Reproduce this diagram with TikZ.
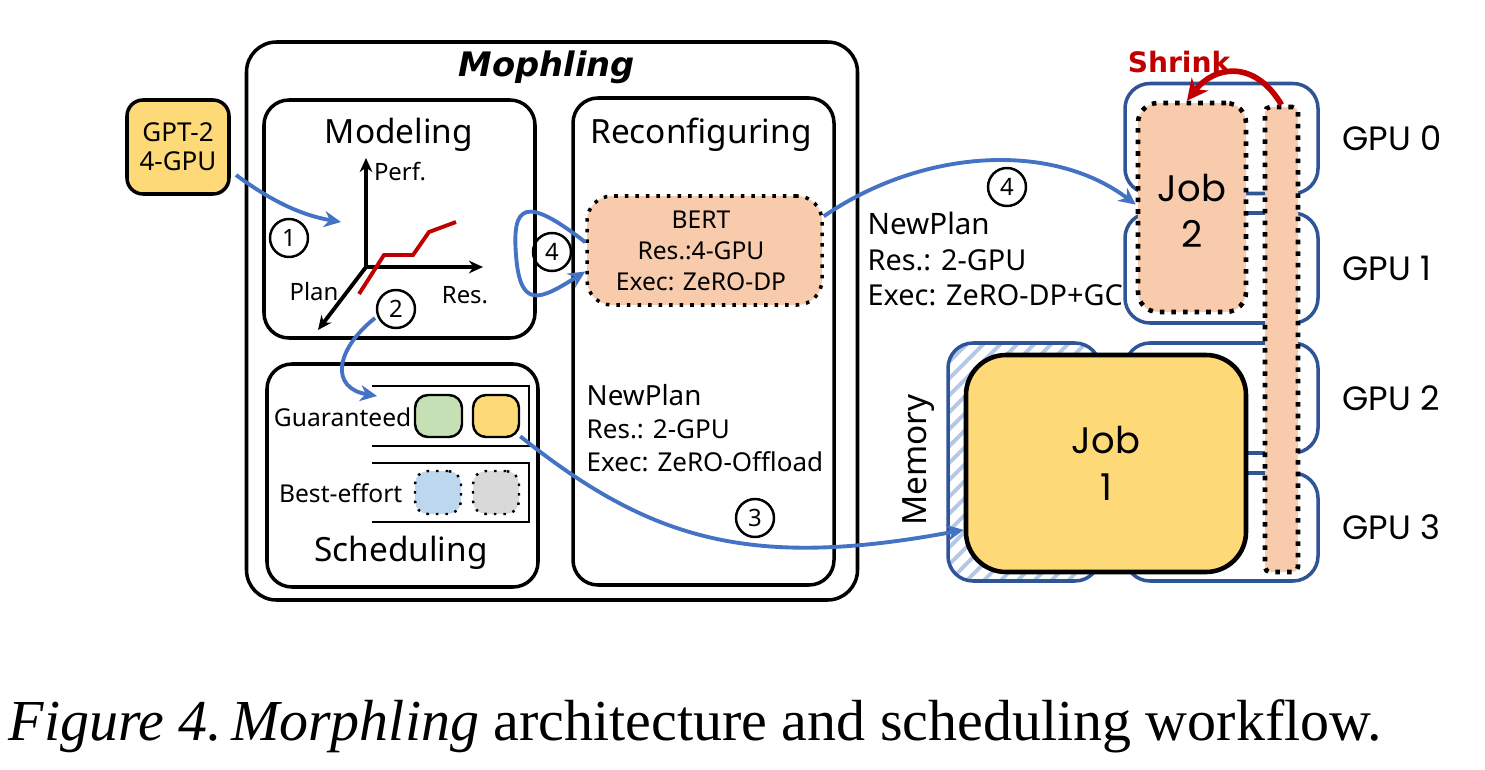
\documentclass[tikz,border=0pt]{standalone}
\usepackage{fontspec}
\setmainfont{Liberation Serif}
\newfontfamily\uisans{Noto Sans}
\newfontfamily\titlefont{DejaVu Sans}
\newfontfamily\geofont{Poppins}
\usetikzlibrary{arrows.meta, patterns.meta, positioning}

\definecolor{flowblue}{HTML}{4472C4}
\definecolor{gpublue}{HTML}{2F5597}
\definecolor{jobyellow}{HTML}{FDD977}
\definecolor{jobpeach}{HTML}{F8CBAD}
\definecolor{qgreen}{HTML}{C5E0B4}
\definecolor{qblue}{HTML}{BDD7EE}
\definecolor{qgray}{HTML}{D9D9D9}
\definecolor{shrinkred}{HTML}{C00000}
\definecolor{hatchblue}{HTML}{B4C7E7}

\begin{document}
\begin{tikzpicture} [x=0.1mm, y=-0.1mm,
    panel/.style = {draw, line width=1pt, rounded corners=3mm, inner sep=0},
    heading/.style = {font=\uisans\fontsize{9.5}{11}\selectfont, inner sep=0},
    small/.style = {font=\uisans\fontsize{7}{8.8}\selectfont, inner sep=0, align=center},
    num/.style = {circle, draw, line width=0.7pt, minimum size=3.8mm, inner sep=0,
        font=\uisans\fontsize{6.8}{8}\selectfont},
    flow/.style = {-{Stealth[length=4.8pt, width=4.6pt]}, line width=1.1pt, flowblue},
    axis/.style = {-{Stealth[length=4pt, width=3.6pt]}, line width=1.1pt},
    queue/.style = {draw, line width=0.7pt, rounded corners=1.3mm, minimum height=4.2mm},
    gpubox/.style = {draw=gpublue, line width=1pt, rounded corners=2.5mm,
        minimum width=19.3mm, minimum height=11mm},
    gpulabel/.style = {font=\geofont\fontsize{9.6}{11}\selectfont, inner sep=0},
    jobtext/.style = {font=\geofont\fontsize{10.5}{13.2}\selectfont, align=center}]

    \useasboundingbox (0,0) rectangle (1485,770);

    % architecture panels
    \node (mophling) [panel, minimum width=61.1mm, minimum height=55.8mm] at (552,321) {};
    \node (title) [font=\titlefont\bfseries\itshape\fontsize{9.6}{11}\selectfont] at (547,67) {Mophling};
    \node (modeling) [panel, rounded corners=2.5mm, minimum width=27.1mm, minimum height=23.8mm] at (399.5,219) {};
    \node (reconf) [panel, rounded corners=2.5mm, minimum width=26.1mm, minimum height=48.7mm] at (703.5,341.5) {};
    \node (sched) [panel, rounded corners=2.5mm, minimum width=27.1mm, minimum height=22.3mm] at (402.5,475.5) {};
    \node (modtitle) [heading] at (399,135) {Modeling};
    \node (rectitle) [heading] at (701,135) {Reconfiguring};
    \node (schtitle) [heading] at (401,553) {Scheduling};

    % incoming job
    \node (gpt) [draw, line width=1pt, fill=jobyellow, rounded corners=1.6mm,
        minimum width=10.2mm, minimum height=9.4mm, small,
        font=\uisans\fontsize{7.4}{8.3}\selectfont] at (178,147) {GPT-2\\4-GPU};

    % performance model
    \coordinate (origin) at (366,267);
    \draw [axis] (origin) -- (366,158);
    \draw [axis] (origin) -- (483,267);
    \draw [axis] (origin) -- (318,330);
    \draw [shrinkred, line width=1.1pt] (359,294) -- (384,255) -- (413,255) -- (429,232) -- (456,222);
    \node (perf) [small, font=\uisans\fontsize{6.8}{8}\selectfont] at (400,172) {Perf.};
    \node (plan) [small, font=\uisans\fontsize{6.8}{8}\selectfont] at (314,292) {Plan};
    \node (res) [small, font=\uisans\fontsize{6.8}{8}\selectfont] at (465,295) {Res.};

    % scheduling queues
    \draw [line width=0.7pt] (372,386) -| (529,446) -- (372,446);
    \draw [line width=0.7pt] (372,463) -| (529,522) -- (372,522);
    \node (guar) [small, anchor=east] at (412,417) {Guaranteed};
    \node (best) [small, anchor=east] at (403,493) {Best-effort};
    \node (gq1) [queue, fill=qgreen, minimum width=4.7mm] at (438.5,416) {};
    \node (gq2) [queue, fill=jobyellow, minimum width=4.6mm] at (496,416) {};
    \node (bq1) [queue, fill=qblue, dotted, minimum width=4.6mm, minimum height=4.3mm] at (438,492.5) {};
    \node (bq2) [queue, fill=qgray, dotted, minimum width=4.6mm, minimum height=4.3mm] at (496,492.5) {};

    % reconfiguring
    \node (bert) [fill=jobpeach, draw, line width=1pt, dotted, rounded corners=2.5mm,
        minimum width=23.5mm, minimum height=10.9mm] at (704.5,250.5) {};
    \node (berttext) [small] at (701,251) {BERT\\Res.:4-GPU\\Exec: ZeRO-DP};
    \node (plan3) [anchor=west, inner sep=0, align=left,
        font=\uisans\fontsize{7.4}{9.3}\selectfont] at (586,428)
        {{\fontsize{7.9}{9.3}\selectfont NewPlan}\\Res.: 2-GPU\\Exec: ZeRO-Offload};
    \node (plan4) [anchor=west, inner sep=0, align=left,
        font=\uisans\fontsize{8.2}{10}\selectfont] at (867,259)
        {{\fontsize{8.4}{10}\selectfont NewPlan}\\Res.: 2-GPU\\Exec: ZeRO-DP+GC};

    % cluster
    \foreach \i/\y/\h in {0/138.5/11, 1/268/11, 2/398/11, 3/527/10.8} {
        \node (gpu\i) [gpubox, minimum height=\h mm] at (1221.5,\y) {};
        \node [gpulabel, right=2.2mm of gpu\i] {GPU \i};
    }
    \node (memory) [draw=gpublue, line width=1pt, rounded corners=2.5mm,
        pattern={Lines[angle=45, distance=3.4pt, line width=1.1pt]}, pattern color=hatchblue,
        minimum width=15.2mm, minimum height=23.8mm] at (1024,462) {};
    \node (memlabel) [rotate=90, font=\uisans\fontsize{9.5}{11}\selectfont, inner sep=0] at (919,460) {Memory};
    \node (job1) [draw, line width=1.3pt, fill=jobyellow, rounded corners=4mm,
        minimum width=28mm, minimum height=21.7mm, jobtext] at (1106,463.5) {Job\\1};
    \node (job2) [draw, line width=1.3pt, dotted, fill=jobpeach, rounded corners=2mm,
        minimum width=10.8mm, minimum height=20.9mm] at (1192,207.5) {};
    \node (job2text) [jobtext] at (1192,211) {Job\\2};
    \node (bar) [draw, line width=1.3pt, dotted, fill=jobpeach, rounded corners=0.5mm,
        minimum width=3.3mm, minimum height=46.5mm] at (1281.5,339.5) {};
    \node (shrink) [text=shrinkred, font=\titlefont\bfseries\fontsize{8}{10}\selectfont] at (1179,62) {Shrink};

    % workflow steps
    \node (n1) [num] at (289,238) {1};
    \node (n2) [num] at (396,309) {2};
    \node (n4a) [num] at (552,252) {4};
    \node (n4b) [num] at (1007,187) {4};
    \node (n3) [num] at (755,518) {3};

    \coordinate (a1s) at (236,175);
    \coordinate (a1e) at (341,222);
    \coordinate (a2s) at (375,318);
    \coordinate (a2e) at (377,396);

    \draw [flow] (a1s) .. controls (270,200) and (300,215) .. (a1e);
    \draw [flow] (a2s) .. controls (335,350) and (330,388) .. (a2e);
    \draw [flow] (gq2.-40) .. controls (650,540) and (750,570) .. (job1.205);
    \draw [flow] (bert.176) .. controls (525,195) and (512,205) .. (516,255)
        .. controls (520,310) and (540,300) .. (bert.190);
    \draw [flow] (bert.16) .. controls (920,150) and (1050,140) .. (job2.177);
    \draw [-{Stealth[length=6pt, width=6pt]}, line width=1.6pt, shrinkred]
        (bar.north) .. controls (1255,60) and (1215,65) .. ([xshift=-0.5mm]job2.north);

    % caption
    \node (caption) [anchor=base west, inner sep=0, font=\fontsize{16.5}{20}\selectfont]
        at (8,740) {\textit{Figure 4.\kern-0.1em\ Morphling} architecture and scheduling workflow.};
\end{tikzpicture}
\end{document}
